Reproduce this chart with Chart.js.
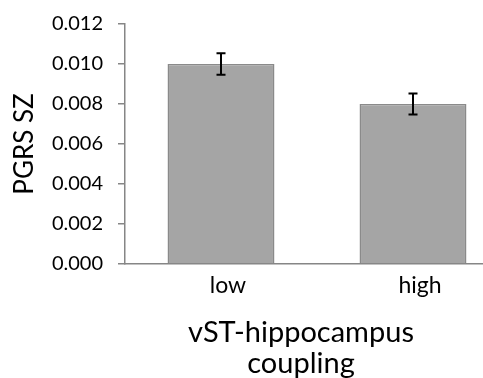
<!DOCTYPE html>
<html>
<head>
<meta charset="utf-8">
<script src="https://cdn.jsdelivr.net/npm/chart.js@4.4.1/dist/chart.umd.min.js"></script>
<style>
  html, body { margin: 0; padding: 0; background: #fff; }
  #wrap { width: 483px; height: 378px; overflow: hidden; position: relative; }
  #wrap canvas { display: block; }
</style>
</head>
<body>
<div id="wrap">
  <canvas id="myChart" width="512" height="378" style="width:512px;height:378px"></canvas>
</div>
<script>
// datos del grafico
const categories = ['low', 'high'];
const pgrsValues = [0.010, 0.008];
const pgrsErrors = [0.00054, 0.00052];
const yTicks = [0.000, 0.002, 0.004, 0.006, 0.008, 0.010, 0.012];
const yTitle = 'PGRS SZ';
const xTitleLines = ['vST-hippocampus', 'coupling'];

const axisGray = '#868686';
const fontFamily = 'Lato, "Open Sans", sans-serif';

// barras de error (linea vertical + topes)
const errorBars = {
  id: 'errorBars',
  afterDatasetsDraw(chart) {
    const ctx = chart.ctx;
    const y = chart.scales.y;
    const meta = chart.getDatasetMeta(0);
    ctx.save();
    ctx.strokeStyle = '#000';
    ctx.lineWidth = 2;
    meta.data.forEach((bar, i) => {
      const v = pgrsValues[i];
      const e = pgrsErrors[i];
      const top = y.getPixelForValue(v + e);
      const bot = y.getPixelForValue(v - e);
      const cap = 4.5;
      ctx.beginPath();
      ctx.moveTo(bar.x, top);
      ctx.lineTo(bar.x, bot);
      ctx.moveTo(bar.x - cap, top);
      ctx.lineTo(bar.x + cap, top);
      ctx.moveTo(bar.x - cap, bot);
      ctx.lineTo(bar.x + cap, bot);
      ctx.stroke();
    });
    ctx.restore();
  }
};

// titulo del eje X en dos lineas
const xAxisTitle = {
  id: 'xAxisTitle',
  afterDraw(chart) {
    const ctx = chart.ctx;
    const x = chart.scales.x;
    ctx.save();
    ctx.fillStyle = '#000';
    ctx.font = '29px ' + fontFamily;
    ctx.textAlign = 'center';
    ctx.textBaseline = 'alphabetic';
    const cx = x.left + 176;
    ctx.fillText(xTitleLines[0], cx, x.top + 78);
    ctx.fillText(xTitleLines[1], cx, x.top + 109);
    ctx.restore();
  }
};

let ctx = document.getElementById('myChart').getContext('2d');

let myChart = new Chart(ctx, {
  type: 'bar',
  data: {
    labels: categories,
    datasets: [{
      label: yTitle,
      data: pgrsValues,
      backgroundColor: '#a5a5a5',
      borderColor: '#8a8a8a',
      borderWidth: 1.5,
      categoryPercentage: 1,
      barPercentage: 0.557
    }]
  },
  options: {
    responsive: false,
    animation: false,
    devicePixelRatio: 1,
    layout: { padding: { top: 24, right: 3, left: 0, bottom: 0 } },
    plugins: {
      legend: { display: false },
      tooltip: { enabled: false }
    },
    scales: {
      x: {
        grid: { drawOnChartArea: false, drawTicks: false },
        border: { color: axisGray, width: 1.5 },
        ticks: {
          color: '#000',
          font: { family: fontFamily, size: 23 },
          padding: 8,
          labelOffset: 7
        },
        afterFit(scale) { scale.height = 114; }
      },
      y: {
        min: 0,
        max: 0.012,
        afterBuildTicks(scale) { scale.ticks = yTicks.map(v => ({ value: v })); },
        grid: { drawOnChartArea: false, drawTicks: true, tickLength: 7, color: axisGray, lineWidth: 1.5 },
        border: { color: axisGray, width: 1.5 },
        ticks: {
          color: '#000',
          font: { family: fontFamily, size: 20 },
          padding: 15,
          callback: (v) => Number(v).toFixed(3)
        },
        title: {
          display: true,
          text: yTitle,
          color: '#000',
          font: { family: fontFamily, size: 26 },
          padding: { top: 9, bottom: 0 }
        },
        afterFit(scale) {
          scale.width = 125;
          scale.paddingTop = 0;
          scale.paddingBottom = 0;
        }
      }
    }
  },
  plugins: [errorBars, xAxisTitle]
});
</script>
</body>
</html>
